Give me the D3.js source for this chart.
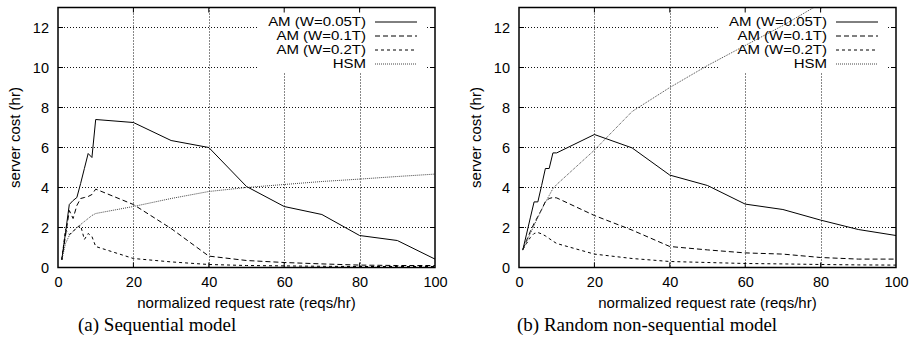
<!DOCTYPE html>
<html>
<head>
<meta charset="utf-8">
<script src="https://cdn.jsdelivr.net/npm/d3@7"></script>
<style>
  body { margin: 0; background: #fff; }
  text { font-family: "Liberation Sans", Arial, sans-serif; fill: #000; }
  .caption { font-family: "Liberation Serif", "Times New Roman", serif; }
  .key { transform-box: fill-box; transform-origin: right center; transform: scaleX(1.2); }
</style>
</head>
<body>
<svg id="chart" width="909" height="345"></svg>
<script>
// request rates (reqs/hr)
const rates = [1, 2, 3, 4, 5, 6, 7, 8, 9, 10, 20, 30, 40, 50, 60, 70, 80, 90, 100];

// (a) sequential model
const seqAM005 = [0.38, 1.75, 3.15, 3.35, 3.5, 4.2, 4.95, 5.7, 5.5, 7.4, 7.25, 6.35, 6.0, 4.05, 3.05, 2.65, 1.6, 1.35, 0.42];
const seqAM01  = [0.38, 1.6, 2.85, 2.45, 3.1, 3.45, 3.5, 3.55, 3.65, 3.92, 3.15, 1.95, 0.57, 0.35, 0.25, 0.18, 0.12, 0.1, 0.1];
const seqAM02  = [0.38, 1.9, 1.65, 1.8, 2.0, 2.1, 1.4, 1.7, 1.55, 1.05, 0.45, 0.28, 0.15, 0.1, 0.08, 0.06, 0.05, 0.05, 0.05];
const seqHSM   = [0.38, 1.2, 1.6, 1.8, 2.0, 2.15, 2.3, 2.45, 2.6, 2.7, 3.05, 3.45, 3.8, 4.0, 4.15, 4.3, 4.42, 4.55, 4.67];

// (b) random non-sequential model
const rndAM005 = [0.87, 1.67, 2.48, 3.28, 3.28, 4.1, 4.95, 4.95, 5.73, 5.73, 6.65, 5.98, 4.62, 4.1, 3.17, 2.9, 2.37, 1.9, 1.6];
const rndAM01  = [0.9, 1.35, 1.8, 2.2, 2.55, 2.9, 3.3, 3.45, 3.5, 3.48, 2.6, 1.87, 1.05, 0.88, 0.73, 0.67, 0.5, 0.42, 0.42];
const rndAM02  = [0.9, 1.2, 1.5, 1.7, 1.75, 1.68, 1.58, 1.45, 1.32, 1.2, 0.67, 0.45, 0.3, 0.25, 0.2, 0.18, 0.15, 0.13, 0.12];
const rndHSM   = [0.87, 1.3, 1.7, 2.1, 2.5, 2.9, 3.25, 3.6, 3.95, 4.15, 5.87, 7.8, 9.0, 10.1, 11.1, 12.1, 13.2, 14.2, 15.2];

const seriesNames = ["AM (W=0.05T)", "AM (W=0.1T)", "AM (W=0.2T)", "HSM"];
const xTicks = [0, 20, 40, 60, 80, 100];
const yTicks = [0, 2, 4, 6, 8, 10, 12];

// line styles per series (solid, long dash, short dash, fine dotted)
const styles = [
  { dash: null, color: "#000" },
  { dash: "5,3", color: "#000" },
  { dash: "3,3", color: "#000" },
  { dash: "1,1", color: "#444" }
];

const svg = d3.select("#chart");
const plotTop = 7.5, plotBottom = 267.5;

function drawPanel(id, left, right, data, caption, captionX) {
  const x = d3.scaleLinear().domain([0, 100]).range([left, right]);
  const y = d3.scaleLinear().domain([0, 13]).range([plotBottom, plotTop]);
  const g = svg.append("g");

  g.append("clipPath").attr("id", "clip" + id)
    .append("rect").attr("x", left).attr("y", plotTop)
    .attr("width", right - left).attr("height", plotBottom - plotTop);

  // grid
  g.selectAll("line.gx").data(xTicks.slice(1, -1)).enter().append("line")
    .attr("x1", d => Math.round(x(d)) + 0.5).attr("x2", d => Math.round(x(d)) + 0.5)
    .attr("y1", plotTop).attr("y2", plotBottom)
    .attr("stroke", "#111").attr("stroke-dasharray", "1,2");
  g.selectAll("line.gy").data(yTicks.slice(1)).enter().append("line")
    .attr("x1", left).attr("x2", right)
    .attr("y1", d => y(d)).attr("y2", d => y(d))
    .attr("stroke", "#111").attr("stroke-dasharray", "1,2");

  // key area hides the grid
  g.append("rect")
    .attr("x", right - 178).attr("y", plotTop + 1)
    .attr("width", 169).attr("height", 64)
    .attr("fill", "#fff");

  // data lines
  const line = d3.line().x((d, i) => x(rates[i])).y(d => y(d));
  data.forEach((vals, k) => {
    g.append("path")
      .attr("d", line(vals))
      .attr("clip-path", `url(#clip${id})`)
      .attr("fill", "none")
      .attr("stroke", styles[k].color)
      .attr("stroke-width", 1)
      .attr("stroke-dasharray", styles[k].dash);
  });

  // key
  seriesNames.forEach((name, k) => {
    const ky = 22 + k * 14;
    g.append("text")
      .attr("class", "key")
      .attr("x", right - 69).attr("y", ky + 4.5)
      .attr("text-anchor", "end")
      .style("font-size", "12.5px")
      .text(name);
    g.append("line")
      .attr("x1", right - 60).attr("x2", right - 18)
      .attr("y1", ky).attr("y2", ky)
      .attr("stroke", styles[k].color)
      .attr("stroke-dasharray", styles[k].dash);
  });

  // inward tick marks on all sides
  xTicks.slice(1, -1).forEach(t => {
    g.append("line").attr("x1", x(t)).attr("x2", x(t)).attr("y1", plotBottom).attr("y2", plotBottom - 5).attr("stroke", "#000");
    g.append("line").attr("x1", x(t)).attr("x2", x(t)).attr("y1", plotTop).attr("y2", plotTop + 5).attr("stroke", "#000");
  });
  yTicks.slice(1).forEach(t => {
    g.append("line").attr("x1", left).attr("x2", left + 5).attr("y1", y(t)).attr("y2", y(t)).attr("stroke", "#000");
    g.append("line").attr("x1", right).attr("x2", right - 5).attr("y1", y(t)).attr("y2", y(t)).attr("stroke", "#000");
  });

  // border
  g.append("rect")
    .attr("x", left).attr("y", plotTop)
    .attr("width", right - left).attr("height", plotBottom - plotTop)
    .attr("fill", "none").attr("stroke", "#000").attr("stroke-width", 1.5);

  // tick labels
  const ax = g.append("g").attr("transform", `translate(0,${plotBottom})`)
    .call(d3.axisBottom(x).tickValues(xTicks).tickSize(0).tickPadding(9));
  const ay = g.append("g").attr("transform", `translate(${left},0)`)
    .call(d3.axisLeft(y).tickValues(yTicks).tickSize(0).tickPadding(9));
  [ax, ay].forEach(a => {
    a.select(".domain").remove();
    a.selectAll("text").style("font-size", "14.5px")
      .style("font-family", "'Liberation Sans', Arial, sans-serif").attr("fill", "#000");
  });

  // titles
  g.append("text")
    .attr("x", (left + right) / 2).attr("y", 308)
    .attr("text-anchor", "middle").style("font-size", "15px")
    .text("normalized request rate (reqs/hr)");
  g.append("text")
    .attr("transform", `translate(${left - 43},${(plotTop + plotBottom) / 2}) rotate(-90)`)
    .attr("text-anchor", "middle").attr("dy", "0.35em").style("font-size", "15px")
    .text("server cost (hr)");
  g.append("text")
    .attr("class", "caption")
    .attr("x", captionX).attr("y", 331)
    .style("font-size", "19px")
    .text(caption);
}

drawPanel("a", 58, 435, [seqAM005, seqAM01, seqAM02, seqHSM], "(a) Sequential model", 78);
drawPanel("b", 519, 896, [rndAM005, rndAM01, rndAM02, rndHSM], "(b) Random non-sequential model", 517);
</script>
</body>
</html>
